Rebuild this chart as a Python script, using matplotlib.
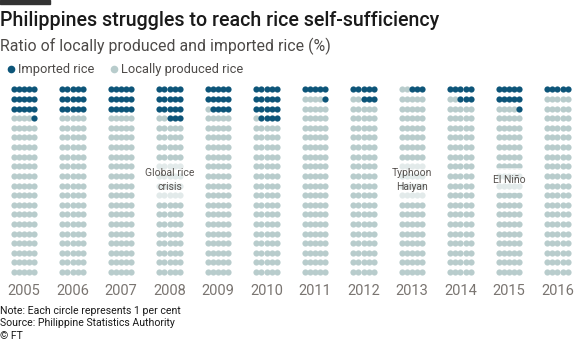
import matplotlib.pyplot as plt
from matplotlib.lines import Line2D
from matplotlib.patches import Rectangle

plt.rcParams['font.family'] = ['Roboto', 'DejaVu Sans']

# Share of imported rice (%) per year; the remainder is locally produced
years = [2005, 2006, 2007, 2008, 2009, 2010, 2011, 2012, 2013, 2014, 2015, 2016]
imported = [16, 15, 15, 18, 14, 19, 6, 8, 3, 8, 11, 5]
event_years = [2008, 2013, 2015]
event_labels = ["Global rice\ncrisis", "Typhoon\nHaiyan", "El Niño"]

DARK = "#0d5579"
LIGHT = "#b8cccc"
N_COLS, N_ROWS = 5, 20

W, H = 580, 341
fig = plt.figure(figsize=(W / 100, H / 100), dpi=100)
fig.patch.set_facecolor("white")

# Dot grid axes: x in year-slot units, y in row units (row 0 at top)
ax = fig.add_axes([0, 1 - 280 / H, 1, (280 - 80) / H])
ax.set_xlim(-0.495, 11.464)
ax.set_ylim(19.82, -0.967)
for s in ax.spines.values():
    s.set_visible(False)

col_step = 0.1072
xs_dark, ys_dark, xs_light, ys_light = [], [], [], []
for i, n_imp in enumerate(imported):
    for k in range(N_COLS * N_ROWS):
        row = k // N_COLS
        col = (N_COLS - 1) - (k % N_COLS)
        x = i + (col - 2) * col_step
        if k < n_imp:
            xs_dark.append(x); ys_dark.append(row)
        else:
            xs_light.append(x); ys_light.append(row)

ax.scatter(xs_light, ys_light, s=20, color=LIGHT, linewidths=0, zorder=2)
ax.scatter(xs_dark, ys_dark, s=20, color=DARK, linewidths=0, zorder=2)

ax.set_xticks(range(len(years)))
ax.set_xticklabels([str(y) for y in years], fontsize=10.5, color="#7a7571")
ax.tick_params(axis="x", length=0, pad=3)
ax.set_yticks([])

for yr, label in zip(event_years, event_labels):
    ax.text(years.index(yr), 9.45, label, ha="center", va="center",
            fontsize=7.5, color="#57524f", linespacing=1.45, zorder=4,
            bbox=dict(boxstyle="square,pad=0.7", facecolor="white",
                      edgecolor="none", alpha=0.6))

# Header
fig.add_artist(Rectangle((0, 1 - 3.5 / H), 50 / W, 3.5 / H,
                         transform=fig.transFigure, color="#333333"))
fig.text(0, 1 - 21 / H, "Philippines struggles to reach rice self-sufficiency",
         fontsize=14.1, fontweight="medium", color="#1a1a1a", va="center", ha="left")
fig.text(0, 1 - 46 / H, "Ratio of locally produced and imported rice (%)",
         fontsize=11.4, color="#4d4a48", va="center", ha="left")

handles = [Line2D([], [], linestyle="none", marker="o", markersize=5.5,
                  markerfacecolor=DARK, markeredgewidth=0),
           Line2D([], [], linestyle="none", marker="o", markersize=5.5,
                  markerfacecolor=LIGHT, markeredgewidth=0)]
fig.legend(handles, ["Imported rice", "Locally produced rice"], loc="center left",
           bbox_to_anchor=(7 / W, 1 - 70 / H), ncol=2, frameon=False,
           fontsize=9.3, labelcolor="#4d4a48", handlelength=0.6,
           handletextpad=0.25, columnspacing=1.2, borderpad=0, borderaxespad=0)

# Footer
foot = dict(fontsize=7.6, color="#1a1a1a", va="center", ha="left")
fig.text(0, 1 - 311 / H, "Note: Each circle represents 1 per cent", **foot)
fig.text(0, 1 - 323.5 / H, "Source: Philippine Statistics Authority", **foot)
fig.text(0, 1 - 336 / H, "© FT", **foot)

fig.savefig("out.png", dpi=100, facecolor="white")
